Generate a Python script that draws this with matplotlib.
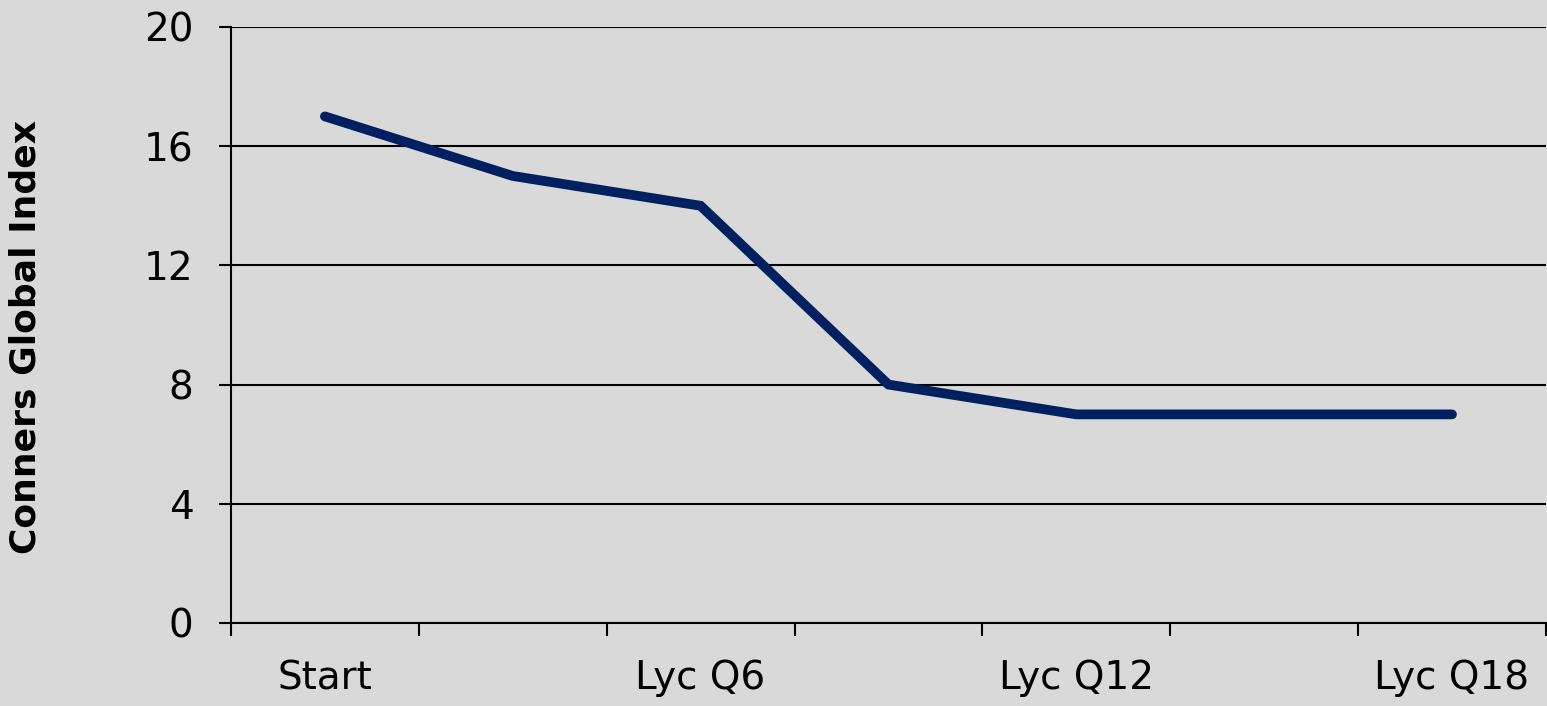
import matplotlib.pyplot as plt
import numpy as np

plt.rcParams['font.family'] = ['DejaVu Sans']

# data
categories = ['Start', '', 'Lyc Q6', '', 'Lyc Q12', '', 'Lyc Q18']
values = [17, 15, 14, 8, 7, 7, 7]
y_ticks = [0, 4, 8, 12, 16, 20]

bg = '#D9D9D9'
fig = plt.figure(figsize=(15.47, 7.06), dpi=100, facecolor=bg)
ax = fig.add_axes([0.1493, 0.1176, 0.8500, 0.8442], facecolor=bg)

x = np.arange(len(values))
ax.plot(x, values, color='#002060', lw=7, solid_capstyle='round',
        solid_joinstyle='miter', zorder=3)

ax.set_xlim(-0.5, len(values) - 0.5)
ax.set_ylim(0, 20)

# tick marks between categories, labels on the categories
ax.set_xticks(np.arange(-0.5, len(values), 1.0))
ax.set_xticklabels([])
ax.set_xticks(x, minor=True)
ax.set_xticklabels(categories, minor=True, fontsize=28)
ax.tick_params(axis='x', which='major', length=9, width=1.5, color='black')
ax.tick_params(axis='x', which='minor', length=0, pad=26)

ax.set_yticks(y_ticks)
ax.set_yticklabels([str(v) for v in y_ticks], fontsize=28)
ax.tick_params(axis='y', length=9, width=1.5, color='black', pad=18)

ax.grid(axis='y', color='black', lw=1.5)
ax.set_axisbelow(True)
for s in ['top', 'right']:
    ax.spines[s].set_visible(False)
ax.spines['left'].set_linewidth(1.5)
ax.spines['bottom'].set_linewidth(1.5)

ax.set_ylabel('Conners Global Index', fontsize=26, fontweight='bold')
ax.yaxis.set_label_coords(-0.143, 0.48)

plt.savefig('out.png', dpi=100, facecolor=bg)
